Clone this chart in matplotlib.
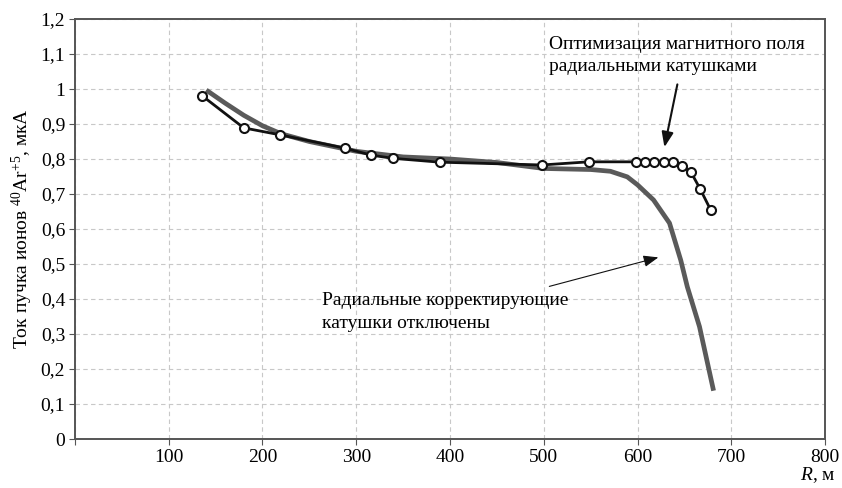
import matplotlib
matplotlib.use("Agg")
import matplotlib.pyplot as plt

plt.rcParams['font.family'] = ['Liberation Serif', 'DejaVu Serif']
plt.rcParams['mathtext.fontset'] = 'custom'
plt.rcParams['mathtext.rm'] = 'Liberation Serif'
plt.rcParams['mathtext.it'] = 'Liberation Serif:italic'

# coils off (thick gray curve)
r_off = [140, 160, 180, 200, 220, 250, 300, 350, 400, 450, 500, 550, 571, 589, 600,
         617, 634, 646, 653, 666, 681]
i_off = [0.997, 0.96, 0.925, 0.895, 0.872, 0.85, 0.822, 0.806, 0.80, 0.79, 0.773, 0.77,
         0.765, 0.749, 0.726, 0.683, 0.617, 0.511, 0.435, 0.321, 0.138]

# optimized field (black with open circles)
r_opt = [136, 180, 219, 288, 316, 339, 389, 498, 548, 598, 608, 618, 628, 638, 647,
         657, 667, 678]
i_opt = [0.98, 0.889, 0.869, 0.831, 0.811, 0.802, 0.791, 0.783, 0.792, 0.792, 0.792,
         0.792, 0.792, 0.792, 0.781, 0.762, 0.713, 0.654]

yticks = [0, 0.1, 0.2, 0.3, 0.4, 0.5, 0.6, 0.7, 0.8, 0.9, 1.0, 1.1, 1.2]
ylabels = ['0', '0,1', '0,2', '0,3', '0,4', '0,5', '0,6', '0,7', '0,8', '0,9', '1', '1,1', '1,2']
xticks = [0, 100, 200, 300, 400, 500, 600, 700, 800]
xlabels = ['', '100', '200', '300', '400', '500', '600', '700', '800']

fig = plt.figure(figsize=(8.42, 4.88), dpi=100)
ax = fig.add_axes([0.089, 0.1004, 0.891, 0.8606])

ax.plot(r_off, i_off, color='#5a5a5a', lw=3.4, solid_capstyle='butt', zorder=2)
ax.plot(r_opt, i_opt, color='#111111', lw=2.0, marker='o', ms=6.5,
        mfc='white', mec='#111111', mew=1.5, zorder=3)

ax.set_xlim(0, 800)
ax.set_ylim(0, 1.2)
ax.set_xticks(xticks)
ax.set_xticklabels(xlabels)
ax.set_yticks(yticks)
ax.set_yticklabels(ylabels)
ax.tick_params(labelsize=14, length=4, color='#555555', pad=3)
ax.grid(True, ls=(0, (4, 3)), color='#c8c8c8', lw=0.8)
for s in ax.spines.values():
    s.set_color('#555555')
    s.set_linewidth(1.4)

ax.set_ylabel('Ток пучка ионов $^{40}$Ar$^{+5}$, мкА', fontsize=14, labelpad=4)
fig.text(0.992, 0.026, '$\\mathit{R}$, м', fontsize=14, ha='right', va='center')

ax.text(505, 1.126, 'Оптимизация магнитного поля', fontsize=14, ha='left', va='center')
ax.text(505, 1.063, 'радиальными катушками', fontsize=14, ha='left', va='center')
ax.annotate('', xy=(628, 0.826), xytext=(643, 1.021),
            arrowprops=dict(arrowstyle='-|>,head_length=0.9,head_width=0.35',
                            color='#111111', lw=1.5))

ax.text(263, 0.397, 'Радиальные корректирующие', fontsize=14, ha='left', va='center')
ax.text(263, 0.329, 'катушки отключены', fontsize=14, ha='left', va='center')
ax.annotate('', xy=(625, 0.521), xytext=(503, 0.434),
            arrowprops=dict(arrowstyle='-|>,head_length=0.9,head_width=0.35',
                            color='#111111', lw=0.8))

fig.savefig('out.png', dpi=100)
